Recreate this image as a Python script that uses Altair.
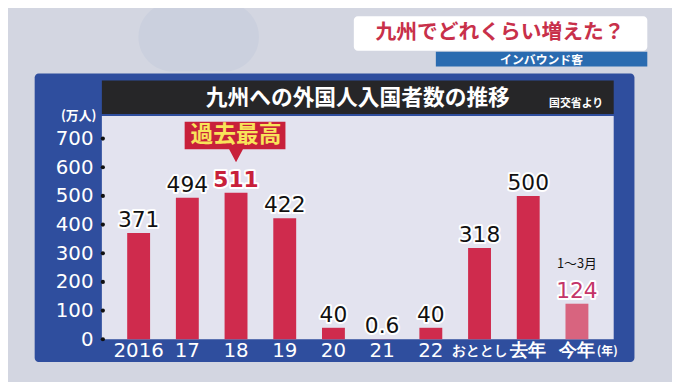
import altair as alt
import pandas as pd

# ---- data ----
categories = ["2016", "17", "18", "19", "20", "21", "22", "おととし", "去年", "今年"]
values = [371, 494, 511, 422, 40, 0.6, 40, 318, 500, 124]
y_ticks = [0, 100, 200, 300, 400, 500, 600, 700]

title_main = "九州への外国人入国者数の推移"
source_note = "国交省より"
banner_title = "九州でどれくらい増えた？"
banner_sub = "インバウンド客"
record_label = "過去最高"
period_note = "1～3月"
y_unit = "(万人)"
x_unit = "(年)"

df = pd.DataFrame({"cat": categories, "value": values})
ticks_df = pd.DataFrame({"value": y_ticks})
one = pd.DataFrame({"k": [0]})

# ---- layout (page px -> view px) ----
VX, VY = 103, 115          # view origin on the page
W, H = 518, 226
PADL, PADT = VX - 8, VY - 8
PADR = 672 - PADL - W
PADB = 374 - PADT - H

JP = "Noto Sans CJK JP"
NUM = "DejaVu Sans"

RED = "#cf2b4d"
PINK = "#d8647f"
BLUE = "#2f4e9e"


def rect(x1, y1, x2, y2, color, r=0):
    return alt.Chart(one).mark_rect(color=color, cornerRadius=r).encode(
        x=alt.value(x1 - VX), x2=alt.value(x2 - VX),
        y=alt.value(y1 - VY), y2=alt.value(y2 - VY))


def label(txt, px, py, size, color, weight="bold", font=JP, align="center"):
    return alt.Chart(one).mark_text(
        text=txt, fontSize=size, color=color, fontWeight=weight, font=font,
        align=align, baseline="middle").encode(
        x=alt.value(px - VX), y=alt.value(py - VY))


xsc = alt.Scale(paddingInner=0.53, paddingOuter=0.52)
ysc = alt.Scale(domain=[0, 779], nice=False)

x_axis = alt.Axis(labelAngle=0, labelColor="white", labelFont=NUM,
                  labelFontSize=alt.expr("datum.value == 'おととし' ? 14 : (datum.value == '去年' || datum.value == '今年') ? 18 : 20"),
                  labelFontWeight=alt.expr("datum.value == 'おととし' || datum.value == '去年' || datum.value == '今年' ? 'bold' : 'normal'"),
                  labelBaseline="middle", labelPadding=11,
                  ticks=False, domain=False, grid=False, zindex=1,
                  titleColor="white", titleFont=JP, titleFontSize=12,
                  titleFontWeight="bold", titleX=511, titleY=11,
                  titleAlign="center", titleBaseline="middle")
y_axis = alt.Axis(values=y_ticks, labelColor="white", labelFont=NUM,
                  labelFontSize=20, labelPadding=9, ticks=False,
                  domain=False, grid=False, zindex=1,
                  titleColor="white", titleFont=JP, titleFontSize=13,
                  titleFontWeight="bold", titleAngle=0, titleX=-24,
                  titleY=0, titleAlign="center", titleBaseline="middle")

X = alt.X("cat:N", sort=categories, scale=xsc, title=x_unit, axis=x_axis)
Y = alt.Y("value:Q", scale=ysc, title=y_unit, axis=y_axis)

bg = rect(0, 0, 690, 390, "#d3d6e1")
blob = rect(140, 0, 262, 70, "#cbd0de", 45)
panel = rect(35, 72, 642, 364, BLUE, 4)
top_box = rect(358, 14, 655, 49, "#ffffff", 4)
sub_bar = rect(441, 50, 655, 65, "#2a6bb0")
title_bar = rect(103, 79, 621, 113, "#262628")
plot_bg = rect(103, 115, 621, 341, "#e3e3ef")

bars = alt.Chart(df).mark_bar().encode(
    x=X, y=Y,
    color=alt.condition("datum.cat == '今年'", alt.value(PINK), alt.value(RED)),
)

dots = alt.Chart(ticks_df).mark_circle(color="#111111", size=18, opacity=1).encode(
    x=alt.value(1), y=Y)


def value_text(filt, color, weight, size, halo):
    base = alt.Chart(df).transform_filter(filt)
    kw = dict(fontSize=size, font=NUM, fontWeight=weight, baseline="alphabetic",
              align="center", dy=-6)
    if halo:
        m = base.mark_text(color="white", stroke="white", strokeWidth=4,
                           strokeJoin="round", **kw)
    else:
        m = base.mark_text(color=color, **kw)
    return m.encode(x=X, y=Y, text=alt.Text("value:Q", format="~g"))


normal = "datum.cat != '18' && datum.cat != '今年'"
vt = []
for h in (True, False):
    vt.append(value_text(normal, "#111111", "normal", 22, h))
    vt.append(value_text("datum.cat == '18'", "#c8203a", "bold", 22, h))
    vt.append(value_text("datum.cat == '今年'", "#c43468", "normal", 22, h))

period = alt.Chart(df).transform_filter("datum.cat == '今年'").mark_text(
    text=period_note, fontSize=13, font=JP, fontWeight="normal", color="#111111",
    baseline="middle", dy=-40).encode(x=X, y=Y)

callout_path = ("M-0.52,-0.72 L0.50,-0.72 L0.50,-0.44 L0.07,-0.44 L0,-0.31 "
                "L-0.07,-0.44 L-0.52,-0.44 Z")
callout = alt.Chart(df).transform_filter("datum.cat == '18'").mark_point(
    shape=callout_path, filled=True, size=40000, color="#c8203a", opacity=1,
    strokeWidth=0).encode(x=X, y=Y)
callout_txt = alt.Chart(df).transform_filter("datum.cat == '18'").mark_text(
    text=record_label, fontSize=23, font=JP, fontWeight="bold", color="#f8e45a",
    baseline="middle", dy=-58).encode(x=X, y=Y)

texts = [
    label(banner_title, 506, 31, 21, "#c8304a"),
    label(banner_sub, 548, 58, 12, "white"),
    label(title_main, 362, 97, 22, "white"),
    label(source_note, 583, 103, 11, "white"),
]

chart = alt.layer(
    bg, blob, panel, top_box, sub_bar, title_bar, plot_bg,
    bars, dots, *vt, period, callout, callout_txt, *texts
).properties(
    width=W, height=H,
    autosize=alt.AutoSizeParams(type="none"),
    padding={"left": PADL, "top": PADT, "right": PADR, "bottom": PADB},
    background="#d3d6e1",
).configure_view(stroke=None, fill=None)

chart.save("out.html", embed_options={"renderer": "svg", "actions": False})
